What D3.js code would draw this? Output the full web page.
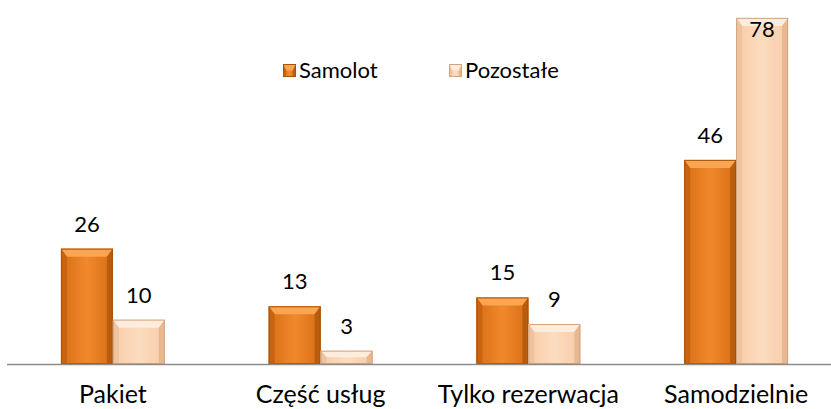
<!DOCTYPE html>
<html>
<head>
<meta charset="utf-8">
<script src="https://cdn.jsdelivr.net/npm/d3@7"></script>
<style>
  body { margin: 0; background: #fff; }
  text { font-family: Lato, "Open Sans", sans-serif; fill: #000; }
</style>
</head>
<body>
<div id="graph"></div>
<script>
WIDTH = 831;
HEIGHT = 409;

var categories = ["Pakiet", "Część usług", "Tylko rezerwacja", "Samodzielnie"];
var seriesNames = ["Samolot", "Pozostałe"];
var samolot = [26, 13, 15, 46];
var pozostale = [10, 3, 9, 78];

// kolory: face (gradient od-do), top bevel, boki, obrys
var palettes = [
  { id: "gOr", f1: "#D96D14", f2: "#F0892C", top: "#F9A552", side: "#C8640F", right: "#B85C0E", edge: "#A5520B" },
  { id: "gLt", f1: "#F7CCA8", f2: "#FCDCC0", top: "#FEEDDD", side: "#EFC39F", right: "#E6B990", edge: "#D4A47E" }
];

var svg = d3.select("#graph").append("svg").attr("width", WIDTH).attr("height", HEIGHT);
var defs = svg.append("defs");
palettes.forEach(function(p) {
  var lg = defs.append("linearGradient").attr("id", p.id).attr("x1", "0").attr("x2", "1").attr("y1", "0").attr("y2", "0");
  lg.append("stop").attr("offset", "0").attr("stop-color", p.f1);
  lg.append("stop").attr("offset", "0.5").attr("stop-color", p.f2);
  lg.append("stop").attr("offset", "1").attr("stop-color", p.f1);
});

var x0 = d3.scaleBand().domain(categories).range([9, 840]).paddingInner(0.5).paddingOuter(0.25);
var x1 = d3.scaleBand().domain(seriesNames).range([0, x0.bandwidth()]);
var y = d3.scaleLinear().domain([0, 80]).range([364, 9]);

var rows = categories.map(function(c, i) {
  return { cat: c, vals: [samolot[i], pozostale[i]] };
});

function bevelBar(g, x, yTop, w, h, p) {
  var b = Math.min(8, h / 2), s = Math.min(6, w / 4);
  g.append("rect").attr("x", x).attr("y", yTop).attr("width", w).attr("height", h).attr("fill", "url(#" + p.id + ")");
  g.append("polygon").attr("points", [[x, yTop], [x + w, yTop], [x + w - s, yTop + b], [x + s, yTop + b]].join(" ")).attr("fill", p.top);
  g.append("polygon").attr("points", [[x, yTop], [x + s, yTop + b], [x + s, yTop + h], [x, yTop + h]].join(" ")).attr("fill", p.side);
  g.append("polygon").attr("points", [[x + w, yTop], [x + w - s, yTop + b], [x + w - s, yTop + h], [x + w, yTop + h]].join(" ")).attr("fill", p.right);
  g.append("rect").attr("x", x + 0.5).attr("y", yTop + 0.5).attr("width", w - 1).attr("height", h - 1)
    .attr("fill", "none").attr("stroke", p.edge).attr("stroke-width", 1);
}

var groups = svg.append("g").selectAll("g").data(rows).enter().append("g")
  .attr("transform", function(d) { return "translate(" + x0(d.cat) + ",0)"; });

groups.each(function(d) {
  var g = d3.select(this);
  d.vals.forEach(function(v, j) {
    var bx = x1(seriesNames[j]);
    bevelBar(g, bx, y(v), x1.bandwidth(), y(0) - y(v), palettes[j]);
    var ly = Math.max(y(v) - 17, 37);
    g.append("text").attr("x", bx + x1.bandwidth() / 2).attr("y", ly)
      .attr("text-anchor", "middle").style("font-size", "22px").text(v);
  });
});

// oś
svg.append("line").attr("x1", 7).attr("x2", WIDTH).attr("y1", 364.5).attr("y2", 364.5)
  .attr("stroke", "#8C8C8C").attr("stroke-width", 1.5);

svg.append("g").selectAll("text").data(categories).enter().append("text")
  .attr("x", function(d) { return x0(d) + x0.bandwidth() / 2; })
  .attr("y", 403).attr("text-anchor", "middle").style("font-size", "25px")
  .text(function(d) { return d; });

// legenda
var legX = [283, 449];
var leg = svg.append("g").selectAll("g").data(seriesNames).enter().append("g")
  .attr("transform", function(d, i) { return "translate(" + legX[i] + ",64)"; });
leg.each(function(d, i) {
  bevelBar(d3.select(this), 0, 0, 13, 13, palettes[i]);
});
leg.append("text").attr("x", 16).attr("y", 14).style("font-size", "22px").text(function(d) { return d; });
</script>
</body>
</html>
